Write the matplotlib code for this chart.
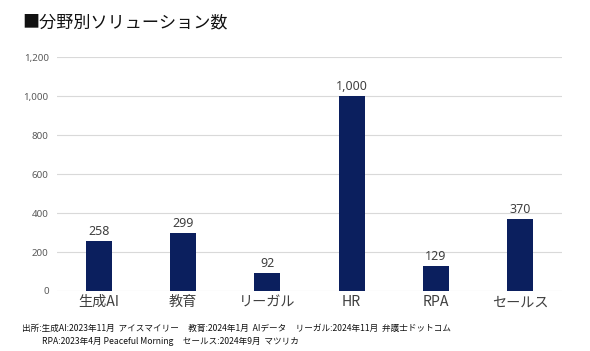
import matplotlib.pyplot as plt
from matplotlib.ticker import FuncFormatter

plt.rcParams['font.family'] = ['Noto Sans CJK JP', 'DejaVu Sans']

categories = ["生成AI", "教育", "リーガル", "HR", "RPA", "セールス"]
values = [258, 299, 92, 1000, 129, 370]
yticks = [0, 200, 400, 600, 800, 1000, 1200]

title = "■分野別ソリューション数"
source_lines = [
    "出所:生成AI:2023年11月  アイスマイリー     教育:2024年1月  AIデータ     リーガル:2024年11月  弁護士ドットコム",
    "RPA:2023年4月 Peaceful Morning     セールス:2024年9月  マツリカ",
]

bar_color = "#0b1f5e"
grid_color = "#d9d9d9"
tick_color = "#595959"

fig = plt.figure(figsize=(5.9, 3.51), dpi=100)
ax = fig.add_axes([57 / 590, 1 - 291 / 351, 505 / 590, 234 / 351])

x = range(len(categories))
bars = ax.bar(x, values, width=0.31, color=bar_color, zorder=3)
for b, v in zip(bars, values):
    ax.text(b.get_x() + b.get_width() / 2, v + 16, f"{v:,}",
            ha="center", va="bottom", fontsize=9, color="#404040",
            family=["Noto Sans", "DejaVu Sans"])

ax.set_xlim(-0.5, len(categories) - 0.5)
ax.set_ylim(0, 1200)
ax.set_yticks(yticks)
ax.yaxis.set_major_formatter(FuncFormatter(lambda v, p: f"{int(v):,}"))
ax.grid(axis="y", color=grid_color, linewidth=0.8, zorder=0)
for s in ax.spines.values():
    s.set_visible(False)
ax.tick_params(axis="y", length=0, labelsize=7, labelcolor=tick_color, pad=6)
for lab in ax.get_yticklabels():
    lab.set_family(["Noto Sans", "DejaVu Sans"])
ax.tick_params(axis="x", length=0, labelsize=10.2, labelcolor="#404040", pad=3)
ax.set_xticks(list(x))
ax.set_xticklabels(categories)

fig.text(22 / 590, 1 - 22 / 351, title, fontsize=12.3, va="center", ha="left", color="#111111")
fig.text(22 / 590, 1 - 328 / 351, source_lines[0], fontsize=6.2, va="center", ha="left", color="#111111")
fig.text(42 / 590, 1 - 341 / 351, source_lines[1], fontsize=6.2, va="center", ha="left", color="#111111")

fig.savefig("out.png", dpi=100)
